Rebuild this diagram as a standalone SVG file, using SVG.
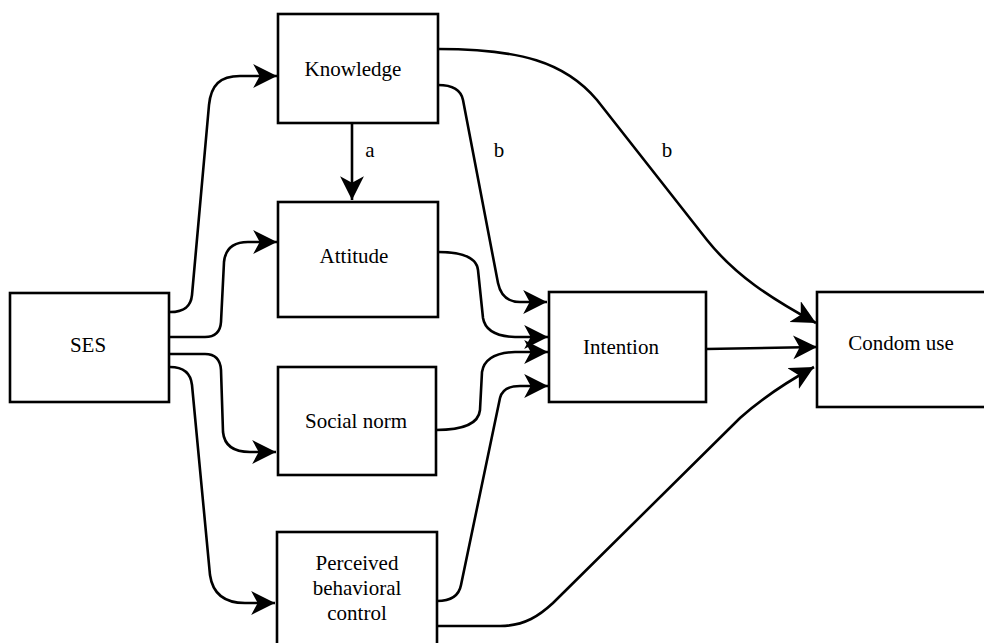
<svg xmlns="http://www.w3.org/2000/svg" width="984" height="643" viewBox="0 0 984 643">
<style>
.box{fill:#fff;stroke:#000;stroke-width:2.6}
.lbl{font-family:"Liberation Serif","Times New Roman",serif;font-size:21px;fill:#000;text-anchor:middle}
.edge{fill:none;stroke:#000;stroke-width:2.6;marker-end:url(#arr)}
</style>
<defs>
<marker id="arr" markerUnits="userSpaceOnUse" markerWidth="26" markerHeight="26" viewBox="0 0 24 24" refX="22" refY="11" orient="auto">
<path d="M0,0 L22,11 L0,22 L6,11 Z" fill="#000"/>
</marker>
</defs>
<rect width="984" height="643" fill="#fff"/>
<g id="connectors">
<path class="edge" d="M170,312 C186,312 191,305 192,295 L209,105 C211,85 220,76 240,76 L277,76"/>
<path class="edge" d="M170,337 L205,337 Q220,337 221,322 L224,262 Q226,242 248,242 L277,242"/>
<path class="edge" d="M170,354 L205,354 Q220,354 221,370 L223,432 Q225,452 250,452 L276,452"/>
<path class="edge" d="M170,367 Q190,367 192,385 L210,575 Q214,603 245,603 L275,603"/>
<path class="edge" d="M352,123 L352,200"/>
<path class="edge" d="M438,85 Q460,85 463,100 L498,283 Q502,302 520,302 L547,302"/>
<path class="edge" d="M438,49 C520,49 565,62 597,100 L707,240 C735,275 770,298 816,323"/>
<path class="edge" d="M438,252 Q476,252 478,270 L483,318 Q486,336 515,337 L548,337"/>
<path class="edge" d="M436,430 Q478,430 480,410 L482,372 Q485,353 515,352 L548,352"/>
<path class="edge" d="M437,601 Q458,601 461,585 L500,398 Q503,386 520,386 L548,386"/>
<path class="edge" d="M437,626 L500,626 C525,626 540,615 553,603 L740,418 C760,400 785,383 814,367"/>
<path class="edge" d="M706,349 L817,347"/>
</g>
<g id="ses"><rect class="box" x="10" y="293" width="159" height="109"/><text class="lbl" x="88" y="352">SES</text></g>
<g id="knowledge"><rect class="box" x="278" y="14" width="160" height="109"/><text class="lbl" x="353" y="76">Knowledge</text></g>
<g id="attitude"><rect class="box" x="278" y="202" width="160" height="115"/><text class="lbl" x="354" y="263">Attitude</text></g>
<g id="socialnorm"><rect class="box" x="278" y="367" width="158" height="108"/><text class="lbl" x="356" y="428">Social norm</text></g>
<g id="pbc"><rect class="box" x="277" y="532" width="160" height="116"/><text class="lbl" x="357" y="570">Perceived</text><text class="lbl" x="357" y="595">behavioral</text><text class="lbl" x="357" y="620">control</text></g>
<g id="intention"><rect class="box" x="549" y="292" width="157" height="110"/><text class="lbl" x="621" y="354">Intention</text></g>
<g id="condomuse"><rect class="box" x="817" y="292" width="172" height="115"/><text class="lbl" x="901" y="350">Condom use</text></g>
<g id="edge-labels">
<text class="lbl" x="370" y="157">a</text>
<text class="lbl" x="499" y="157">b</text>
<text class="lbl" x="667" y="157">b</text>
</g>
</svg>
